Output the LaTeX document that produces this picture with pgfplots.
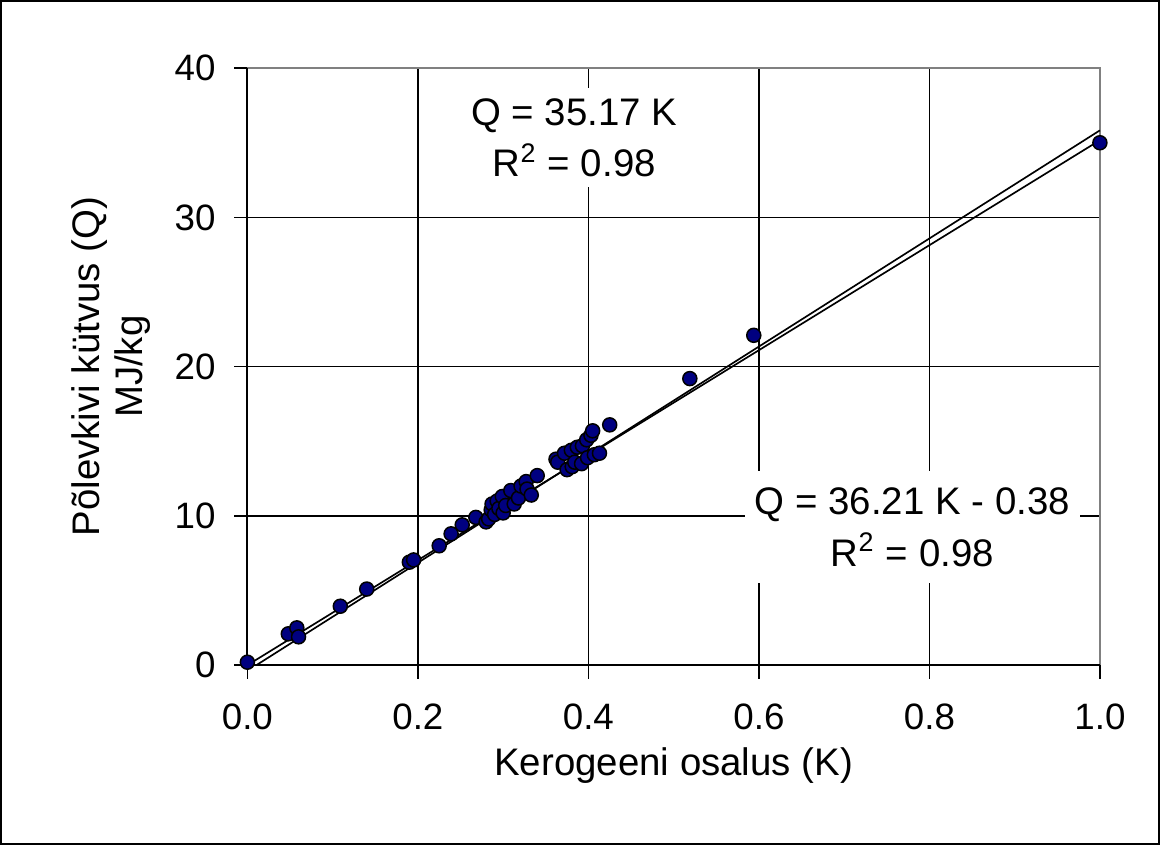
\documentclass[border=0pt]{standalone}
\usepackage{pgfplots}
\pgfplotsset{compat=1.18}
\usepackage{fontspec}
\setmainfont{Liberation Sans}
\definecolor{markblue}{RGB}{0,0,128}
\definecolor{plotgray}{RGB}{128,128,128}

\pgfplotstableread{
K Q
0.000 0.2
0.048 2.1
0.058 2.5
0.060 1.9
0.109 3.95
0.140 5.1
0.190 6.9
0.195 7.05
0.225 8.0
0.239 8.8
0.252 9.4
0.268 9.9
0.280 9.6
0.283 9.8
0.286 10.4
0.287 10.8
0.290 10.1
0.293 11.0
0.295 10.5
0.299 11.3
0.300 10.2
0.303 10.7
0.309 11.7
0.313 10.8
0.318 11.2
0.321 12.0
0.327 12.3
0.328 11.8
0.333 11.4
0.340 12.7
0.362 13.8
0.364 13.6
0.372 14.2
0.375 13.1
0.380 14.4
0.381 13.3
0.384 13.6
0.387 14.6
0.392 13.5
0.393 14.7
0.398 15.1
0.399 13.9
0.403 15.4
0.405 15.7
0.407 14.1
0.413 14.2
0.425 16.1
0.519 19.2
0.594 22.1
1.000 35.0
}\kerogen

\begin{document}
\begin{tikzpicture}
\begin{axis}[
  scale only axis,
  width=255.3pt, height=178.8pt,
  xmin=0, xmax=1, ymin=0, ymax=40,
  xtick={0,0.2,0.4,0.6,0.8,1},
  ytick={0,10,20,30,40},
  grid=major,
  grid style={black, line width=0.45pt},
  axis line style={draw=none},
  tick align=outside,
  xtick pos=bottom, ytick pos=left,
  major tick length=4pt,
  tick style={black, line width=0.45pt},
  /pgf/number format/assume math mode=true,
  tick label style={font=\fontsize{11}{13}\selectfont},
  xticklabel style={/pgf/number format/fixed, /pgf/number format/fixed zerofill,
    /pgf/number format/precision=1, yshift=-4pt},
  yticklabel style={xshift=-2pt},
  xlabel={Kerogeeni osalus (K)},
  ylabel={Põlevkivi kütvus (Q)\\MJ/kg},
  label style={font=\fontsize{11.5}{13}\selectfont},
  xlabel style={at={(rel axis cs:0.5,-0.168)}, anchor=center},
  ylabel style={at={(rel axis cs:-0.16,0.5)}, anchor=center, align=center},
  clip=false,
]
  % chart area frame and plot area border
  \draw[black, line width=0.6pt] (rel axis cs:-0.289,-0.2987) rectangle (rel axis cs:1.0693,1.1124);
  \draw[plotgray, line width=0.6pt] (rel axis cs:0,1) -- (rel axis cs:1,1) -- (rel axis cs:1,0);
  \draw[black, line width=0.6pt] (rel axis cs:0,1) -- (rel axis cs:0,0) -- (rel axis cs:1,0);

  \addplot[only marks, mark=*, mark size=2.1pt,
    mark options={fill=markblue, draw=black, line width=0.45pt}] table[x=K, y=Q] {\kerogen};

  % trendlines
  \addplot[black, line width=0.5pt] coordinates {(0,0) (1,35.17)};
  \addplot[black, line width=0.5pt] coordinates {(0.0105,0) (1,35.83)};

  \node[fill=white, align=center, font=\fontsize{11.5}{15.5}\selectfont, inner xsep=3pt, inner ysep=3pt]
    at (axis cs:0.3835,35.33) {Q = 35.17 K\\R\textsuperscript{2} = 0.98};
  \node[fill=white, align=center, font=\fontsize{11.5}{15.5}\selectfont, inner xsep=3pt, inner ysep=5pt]
    at (axis cs:0.78,9.24) {Q = 36.21 K - 0.38\\R\textsuperscript{2} = 0.98};
\end{axis}
\end{tikzpicture}
\end{document}
